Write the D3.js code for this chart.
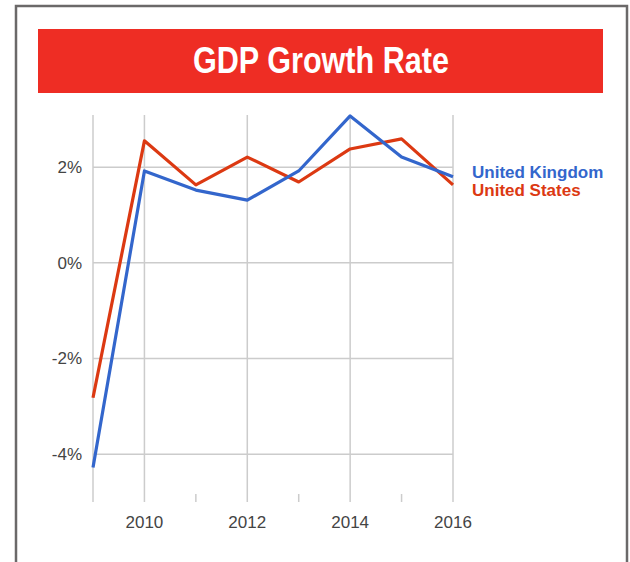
<!DOCTYPE html>
<html>
<head>
<meta charset="utf-8">
<script src="https://cdn.jsdelivr.net/npm/d3@7"></script>
<style>
  body { margin: 0; background: #fff; }
  svg { display: block; }
</style>
</head>
<body>
<svg id="chart" width="630" height="562"></svg>
<script>
// Data
const years = [2009, 2010, 2011, 2012, 2013, 2014, 2015, 2016]
const ukGrowth = [-4.28, 1.92, 1.52, 1.31, 1.92, 3.07, 2.21, 1.80]
const usGrowth = [-2.82, 2.55, 1.63, 2.21, 1.69, 2.38, 2.59, 1.63]
const seriesNames = ['United Kingdom', 'United States']
const seriesColors = ['#3366cc', '#dc3912']
const yTicks = [2, 0, -2, -4]
const xLabelTicks = [2010, 2012, 2014, 2016]
const titleText = 'GDP Growth Rate'

const plot = { left: 93, right: 453, top: 115, bottom: 502 }
const labelFont = '"Liberation Sans", Arial, Helvetica, sans-serif'

const svg = d3.select('#chart')

// outer frame
svg.append('rect')
    .attr('x', 16).attr('y', 6)
    .attr('width', 611).attr('height', 600)
    .attr('fill', 'none')
    .attr('stroke', '#6b6969')
    .attr('stroke-width', 2.5)

// title banner
svg.append('rect')
    .attr('x', 38).attr('y', 29)
    .attr('width', 565).attr('height', 64)
    .attr('fill', '#ee2d24')

svg.append('text')
    .attr('x', 193).attr('y', 73)
    .attr('textLength', 256)
    .attr('lengthAdjust', 'spacingAndGlyphs')
    .style('font-family', labelFont)
    .style('font-size', '36px')
    .style('font-weight', 'bold')
    .style('fill', '#fff')
    .text(titleText)

// scales
const x = d3.scaleLinear().domain([2009, 2016]).range([plot.left, plot.right])
const y = d3.scaleLinear().domain([-5, 3.09]).range([plot.bottom, plot.top])

const grid = svg.append('g')

// vertical gridlines at even years plus the left edge
grid.selectAll('line.vx')
    .data(years.filter(d => d % 2 === 0 || d === 2009))
    .join('line')
    .attr('class', 'vx')
    .attr('x1', d => x(d)).attr('x2', d => x(d))
    .attr('y1', plot.top).attr('y2', plot.bottom)
    .attr('stroke', '#cccccc')
    .attr('stroke-width', 1.5)

// minor ticks for odd years
grid.selectAll('line.mx')
    .data(years.filter(d => d % 2 === 1 && d !== 2009))
    .join('line')
    .attr('class', 'mx')
    .attr('x1', d => x(d)).attr('x2', d => x(d))
    .attr('y1', plot.bottom - 8).attr('y2', plot.bottom)
    .attr('stroke', '#cccccc')
    .attr('stroke-width', 1.5)

// horizontal gridlines
grid.selectAll('line.hy')
    .data(yTicks)
    .join('line')
    .attr('class', 'hy')
    .attr('x1', plot.left).attr('x2', plot.right)
    .attr('y1', d => y(d)).attr('y2', d => y(d))
    .attr('stroke', '#cccccc')
    .attr('stroke-width', 1.5)

// y labels
svg.append('g').selectAll('text')
    .data(yTicks)
    .join('text')
    .attr('x', 82)
    .attr('y', d => y(d) + 6)
    .attr('text-anchor', 'end')
    .style('font-family', labelFont)
    .style('font-size', '17px')
    .style('fill', '#444')
    .text(d => d + '%')

// x labels
svg.append('g').selectAll('text')
    .data(xLabelTicks)
    .join('text')
    .attr('x', d => x(d))
    .attr('y', 528)
    .attr('text-anchor', 'middle')
    .style('font-family', labelFont)
    .style('font-size', '17px')
    .style('fill', '#444')
    .text(d => d)

// lines
const line = d3.line()
    .x((d, i) => x(years[i]))
    .y(d => y(d))

// US first so UK sits on top
svg.append('path')
    .datum(usGrowth)
    .attr('d', line)
    .attr('fill', 'none')
    .attr('stroke', seriesColors[1])
    .attr('stroke-width', 3.2)
    .attr('stroke-linejoin', 'round')

svg.append('path')
    .datum(ukGrowth)
    .attr('d', line)
    .attr('fill', 'none')
    .attr('stroke', seriesColors[0])
    .attr('stroke-width', 3.2)
    .attr('stroke-linejoin', 'round')

// legend
svg.append('g').selectAll('text')
    .data(seriesNames)
    .join('text')
    .attr('x', 472)
    .attr('y', (d, i) => 178 + i * 18)
    .style('font-family', labelFont)
    .style('font-size', '17px')
    .style('font-weight', 'bold')
    .style('fill', (d, i) => seriesColors[i])
    .text(d => d)
</script>
</body>
</html>
